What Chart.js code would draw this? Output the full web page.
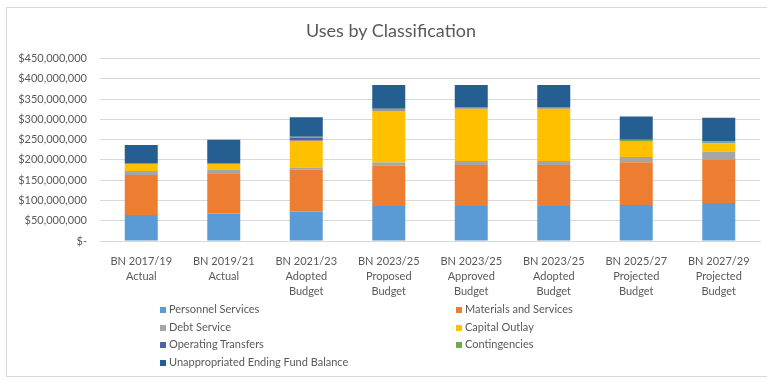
<!DOCTYPE html>
<html>
<head>
<meta charset="utf-8">
<title>Uses by Classification</title>
<script src="https://cdn.jsdelivr.net/npm/chart.js@4/dist/chart.umd.min.js"></script>
<style>
    html, body { margin: 0; padding: 0; background: #fff; }
    #wrap { position: relative; width: 767px; height: 383px; overflow: hidden; font-family: Lato, "Open Sans", sans-serif; }
    #frame { position: absolute; left: 6px; top: 7px; width: 770px; height: 370px; border: 1px solid #d9d9d9; box-sizing: border-box; }
    #salesChart { position: absolute; left: 0; top: 0; }
    #chartTitle {
        position: absolute; left: 0; top: 20px; width: 782px;
        text-align: center; font-size: 18px; line-height: 21.6px; color: #595959;
    }
    #legend {
        position: absolute; left: 160px; top: 300px;
        display: grid; grid-template-columns: 296px 200px; row-gap: 0;
        font-size: 11px; color: #595959;
    }
    .leg-item { height: 17.6px; line-height: 17.6px; white-space: nowrap; }
    .leg-box { display: inline-block; width: 6px; height: 6px; margin-right: 3px; vertical-align: 0px; }
</style>
</head>
<body>
<div id="wrap">
    <div id="frame"></div>
    <canvas id="salesChart" width="767" height="383"></canvas>
    <div id="chartTitle">Uses by Classification</div>
    <div id="legend"></div>
</div>
<script>
// --- Datos del gráfico (dólares) ---
const categories = [
    ['BN 2017/19', 'Actual'],
    ['BN 2019/21', 'Actual'],
    ['BN 2021/23', 'Adopted', 'Budget'],
    ['BN 2023/25', 'Proposed', 'Budget'],
    ['BN 2023/25', 'Approved', 'Budget'],
    ['BN 2023/25', 'Adopted', 'Budget'],
    ['BN 2025/27', 'Projected', 'Budget'],
    ['BN 2027/29', 'Projected', 'Budget']
];

const personnelServices   = [64000000, 68000000, 72500000, 86500000, 86500000, 86500000, 89000000, 94000000];
const materialsServices   = [99000000, 99000000, 103000000, 99000000, 101000000, 101000000, 105500000, 106000000];
const debtService         = [10000000, 8000000, 6000000, 8000000, 10000000, 10000000, 12500000, 21000000];
const capitalOutlay       = [17000000, 15000000, 66000000, 128000000, 129000000, 129000000, 38500000, 20000000];
const operatingTransfers  = [1000000, 1000000, 7000000, 2000000, 1000000, 1000000, 1000000, 2000000];
const contingencies       = [1000000, 1000000, 3000000, 3000000, 3000000, 3000000, 3000000, 3000000];
const unappropriatedEFB   = [45000000, 58000000, 47500000, 58500000, 54500000, 54500000, 57500000, 58000000];

const yTicks = [0, 50000000, 100000000, 150000000, 200000000, 250000000, 300000000, 350000000, 400000000, 450000000];

const seriesNames = [
    'Personnel Services', 'Materials and Services', 'Debt Service', 'Capital Outlay',
    'Operating Transfers', 'Contingencies', 'Unappropriated Ending Fund Balance'
];
const seriesData = [
    personnelServices, materialsServices, debtService, capitalOutlay,
    operatingTransfers, contingencies, unappropriatedEFB
];
const seriesColors = ['#5b9bd5', '#ed7d31', '#a5a5a5', '#ffc000', '#5060b0', '#70ad47', '#255e91'];

const TEXT = '#595959';
const FONT = 'Lato, "Open Sans", sans-serif';

// --- Gráfico ---
const chartCanvas = document.getElementById('salesChart');

const salesChartInstance = new Chart(chartCanvas, {
    type: 'bar',
    data: {
        labels: categories,
        datasets: seriesNames.map((name, i) => ({
            label: name,
            data: seriesData[i],
            backgroundColor: seriesColors[i],
            borderWidth: 0,
            barPercentage: 0.4,
            categoryPercentage: 1
        }))
    },
    options: {
        responsive: false,
        animation: false,
        devicePixelRatio: 1,
        // el espacio superior deja sitio al título HTML
        layout: { padding: { left: 0, right: 7, top: 58.6, bottom: 0 } },
        plugins: {
            legend: { display: false },
            tooltip: { enabled: false },
            title: { display: false }
        },
        scales: {
            x: {
                stacked: true,
                grid: { display: false },
                border: { display: true, color: '#d9d9d9' },
                ticks: {
                    color: TEXT,
                    font: { family: FONT, size: 11, lineHeight: 1.36 },
                    padding: 5,
                    maxRotation: 0,
                    autoSkip: false
                },
                afterFit: (scale) => { scale.height = 142; }
            },
            y: {
                stacked: true,
                min: 0,
                max: 450000000,
                afterBuildTicks: (scale) => { scale.ticks = yTicks.map(v => ({ value: v })); },
                grid: { color: '#d9d9d9', drawTicks: false },
                border: { display: false },
                ticks: {
                    color: TEXT,
                    font: { family: FONT, size: 11 },
                    padding: 13,
                    callback: (v) => v === 0 ? '$-' : '$' + v.toLocaleString('en-US')
                },
                afterFit: (scale) => { scale.width = 100; }
            }
        }
    }
});

// --- Leyenda en dos columnas ---
const legendBox = document.getElementById('legend');
seriesNames.forEach((name, i) => {
    const item = document.createElement('div');
    item.className = 'leg-item';
    item.innerHTML = `<span class="leg-box" style="background:${seriesColors[i]}"></span>${name}`;
    legendBox.appendChild(item);
});
</script>
</body>
</html>
